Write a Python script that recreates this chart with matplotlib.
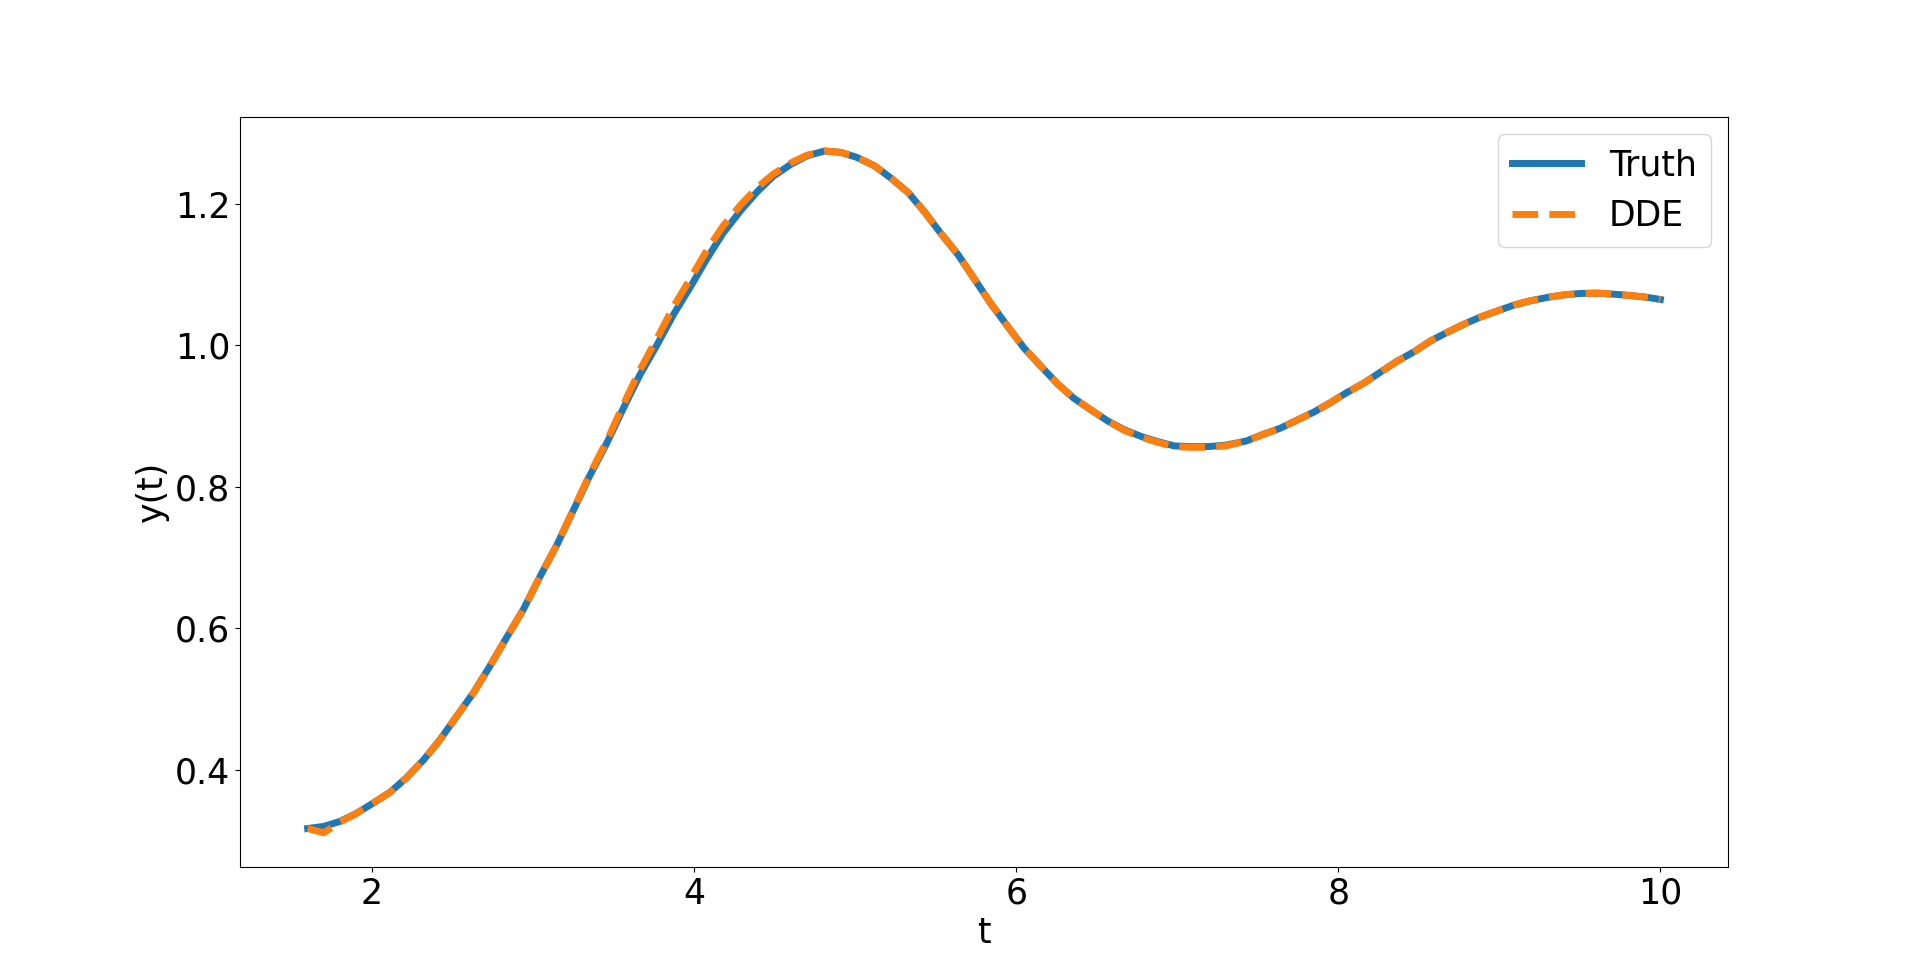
import numpy as np
import matplotlib
matplotlib.use("Agg")
import matplotlib.pyplot as plt

# values
t = [1.60, 1.70, 1.80, 1.90, 2.00, 2.11, 2.21, 2.32, 2.42, 2.52, 2.63, 2.73,
     2.83, 2.94, 3.04, 3.15, 3.25, 3.35, 3.46, 3.56, 3.66, 3.77, 3.87, 3.98,
     4.08, 4.18, 4.29, 4.39, 4.49, 4.60, 4.70, 4.81, 4.91, 5.01, 5.12, 5.22,
     5.33, 5.43, 5.53, 5.64, 5.74, 5.84, 5.95, 6.05, 6.16, 6.26, 6.36, 6.47,
     6.57, 6.67, 6.78, 6.88, 6.98, 7.09, 7.19, 7.30, 7.43, 7.53, 7.64, 7.74,
     7.85, 7.95, 8.05, 8.16, 8.26, 8.36, 8.47, 8.57, 8.68, 8.78, 8.88, 8.99,
     9.09, 9.19, 9.30, 9.40, 9.50, 9.61, 9.71, 9.82, 9.92, 10.0]

y_truth = [0.317, 0.320, 0.327, 0.338, 0.352, 0.368, 0.388, 0.414, 0.442, 0.474, 0.509, 0.546,
           0.585, 0.627, 0.672, 0.719, 0.767, 0.815, 0.863, 0.911, 0.957, 1.001, 1.043, 1.084,
           1.123, 1.159, 1.191, 1.217, 1.239, 1.256, 1.268, 1.275, 1.273, 1.266, 1.254, 1.237,
           1.216, 1.189, 1.159, 1.128, 1.094, 1.060, 1.026, 0.996, 0.969, 0.945, 0.925, 0.908,
           0.893, 0.881, 0.871, 0.864, 0.858, 0.857, 0.857, 0.859, 0.865, 0.874, 0.883, 0.894,
           0.906, 0.919, 0.933, 0.947, 0.962, 0.977, 0.991, 1.006, 1.019, 1.030, 1.040, 1.049,
           1.057, 1.063, 1.068, 1.0715, 1.0735, 1.074, 1.0725, 1.0705, 1.068, 1.065]

y_dde = [0.317, 0.311, 0.326, 0.338, 0.352, 0.368, 0.388, 0.414, 0.442, 0.474, 0.509, 0.546,
         0.585, 0.627, 0.672, 0.719, 0.768, 0.817, 0.866, 0.916, 0.964, 1.010, 1.054, 1.096,
         1.135, 1.169, 1.199, 1.223, 1.242, 1.258, 1.269, 1.275, 1.273, 1.266, 1.254, 1.237,
         1.216, 1.189, 1.159, 1.128, 1.094, 1.060, 1.026, 0.996, 0.969, 0.945, 0.925, 0.908,
         0.893, 0.880, 0.870, 0.863, 0.857, 0.856, 0.856, 0.858, 0.865, 0.874, 0.883, 0.894,
         0.906, 0.919, 0.933, 0.947, 0.962, 0.977, 0.991, 1.006, 1.019, 1.030, 1.040, 1.049,
         1.057, 1.063, 1.068, 1.0715, 1.0735, 1.074, 1.0725, 1.0705, 1.068, 1.065]

plt.rcParams['font.size'] = 25
fig, ax = plt.subplots(figsize=(19.2, 9.74), dpi=100)
ax.plot(t, y_truth, label='Truth', linewidth=5)
ax.plot(t, y_dde, '--', label='DDE', linewidth=5)
ax.set_xlabel('t')
ax.set_ylabel('y(t)')
ax.legend()
plt.savefig('out.png')
